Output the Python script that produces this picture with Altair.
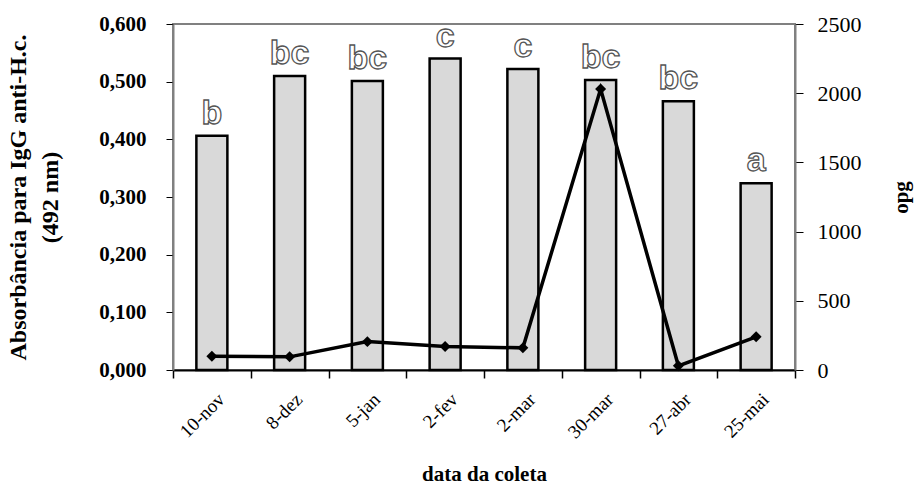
import altair as alt
import pandas as pd

dates = ["10-nov", "8-dez", "5-jan", "2-fev", "2-mar", "30-mar", "27-abr", "25-mai"]
absorb = [0.406, 0.510, 0.501, 0.540, 0.522, 0.503, 0.466, 0.324]
opg = [100, 95, 205, 170, 160, 2030, 30, 240]
letters = ["b", "bc", "bc", "c", "c", "bc", "bc", "a"]

df = pd.DataFrame({"data": dates, "abs": absorb, "opg": opg, "letra": letters})

SERIF = "Liberation Serif"

x = alt.X(
    "data:N",
    sort=dates,
    scale=alt.Scale(paddingInner=0, paddingOuter=0),
    axis=alt.Axis(
        title="data da coleta",
        titleFont=SERIF, titleFontSize=21, titleFontWeight="bold", titleColor="black",
        titlePadding=22,
        labelFont=SERIF, labelFontSize=19, labelFontWeight="normal", labelColor="black",
        labelAngle=315, labelAlign="right", labelBaseline="middle",
        labelOffset=9, labelPadding=18,
        tickBand="extent", tickSize=8, tickColor="black", tickWidth=1.5,
        domainColor="black", domainWidth=2, grid=False,
    ),
)

yleft = alt.Y(
    "abs:Q",
    scale=alt.Scale(domain=[0, 0.6], nice=False),
    axis=alt.Axis(
        title=["Absorbância para IgG anti-H.c.", "(492 nm)"],
        titleFont=SERIF, titleFontSize=24, titleFontWeight="bold", titleColor="black",
        titlePadding=36, titleLineHeight=32,
        labelFont=SERIF, labelFontSize=21, labelFontWeight="bold", labelColor="black",
        labelExpr="replace(format(datum.value, '.3f'), '.', ',')",
        values=[0, 0.1, 0.2, 0.3, 0.4, 0.5, 0.6],
        tickSize=7, tickColor="black", labelPadding=20,
        domainColor="#808080", domainWidth=2, grid=False,
    ),
)

bars = alt.Chart(df).mark_bar(
    size=31, fill="#d9d9d9", stroke="black", strokeWidth=2.5
).encode(x=x, y=yleft)

labels = alt.Chart(df).mark_text(
    font="Liberation Sans", fontSize=34, fontWeight="bold",
    fill="white", stroke="#555555", strokeWidth=1.3,
    baseline="alphabetic", dy=-12,
).encode(x=x, y=yleft, text="letra:N")

left = alt.layer(bars, labels)

yright = alt.Y(
    "opg:Q",
    scale=alt.Scale(domain=[0, 2500], nice=False),
    axis=alt.Axis(
        orient="right",
        title="opg",
        titleFont=SERIF, titleFontSize=21, titleFontWeight="bold", titleColor="black",
        titleAngle=270, titlePadding=50,
        labelFont=SERIF, labelFontSize=22, labelColor="black", format="d",
        values=[0, 500, 1000, 1500, 2000, 2500],
        tickSize=8, tickColor="black", labelPadding=14,
        domainColor="#808080", domainWidth=2, grid=False,
    ),
)

line = alt.Chart(df).mark_line(
    color="black", strokeWidth=3.5,
    point=alt.OverlayMarkDef(shape="diamond", size=120, filled=True, color="black"),
).encode(x=x, y=yright)

chart = alt.layer(left, line).resolve_scale(y="independent").properties(
    width=622, height=346,
    autosize=alt.AutoSizeParams(type="none"),
    padding={"left": 173, "top": 24, "right": 123, "bottom": 118},
    background="white",
).configure_view(stroke="#808080", strokeWidth=2)

chart.save("out.html", embed_options={"renderer": "svg", "actions": False})
